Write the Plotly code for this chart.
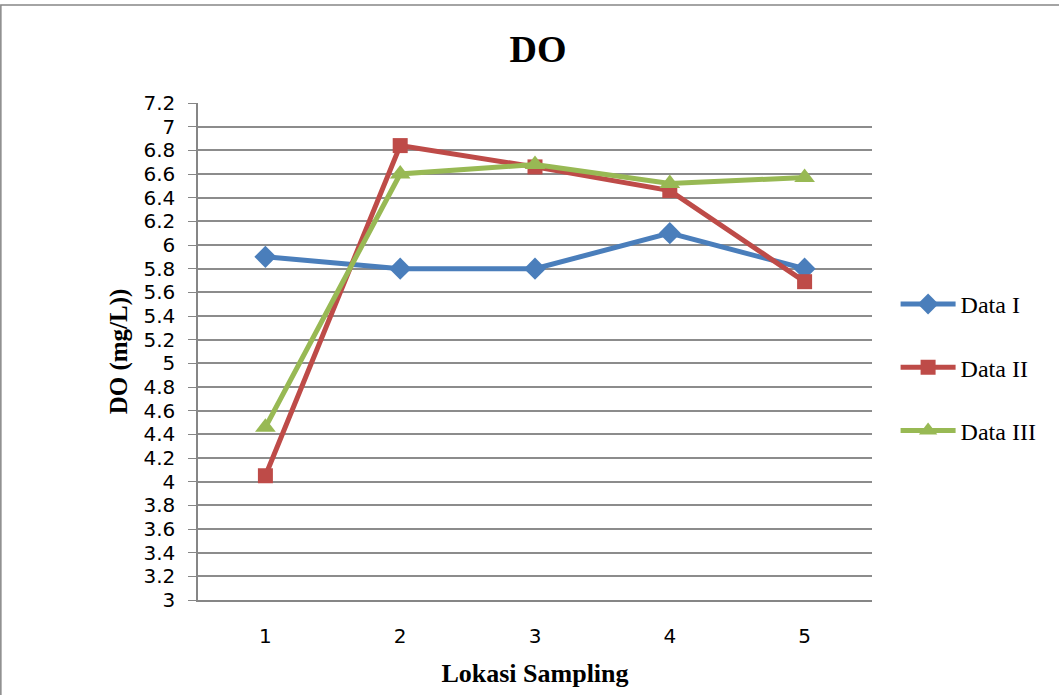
import plotly.graph_objects as go

# Sampling locations and dissolved oxygen readings (mg/L)
lokasi = [1, 2, 3, 4, 5]
data_1 = [5.9, 5.8, 5.8, 6.1, 5.8]
data_2 = [4.05, 6.84, 6.66, 6.46, 5.69]
data_3 = [4.46, 6.60, 6.68, 6.52, 6.57]

y_ticks = [round(3 + 0.2 * i, 1) for i in range(22)]
y_tick_text = [("%g" % v) for v in y_ticks]

series = [
    ("Data I", data_1, "#4A7EBB", "diamond", 17),
    ("Data II", data_2, "#BE4B48", "square", 15),
    ("Data III", data_3, "#98B954", "triangle-up", 18),
]

SERIF = "Liberation Serif, Times New Roman, serif"
SANS = "DejaVu Sans, sans-serif"

fig = go.Figure()
for name, vals, color, symbol, size in series:
    fig.add_trace(go.Scatter(
        x=lokasi, y=vals, name=name, mode="lines+markers",
        legendgroup=name,
        line=dict(color=color, width=5),
        marker=dict(symbol=symbol, size=size, color=color),
    ))

fig.update_layout(
    width=1059, height=695,
    margin=dict(l=198, r=187, t=103, b=95),
    paper_bgcolor="white", plot_bgcolor="white",
    title=dict(text="<b>DO</b>", x=0.508, xanchor="center", y=0.93, yanchor="middle",
               font=dict(family=SERIF, size=38, color="black")),
    showlegend=True,
    legend=dict(x=1.035, y=0.64, xanchor="left", yanchor="top",
                font=dict(family=SERIF, size=24, color="black"),
                tracegroupgap=29, itemwidth=55, bgcolor="rgba(0,0,0,0)"),
    xaxis=dict(
        range=[0.5, 5.5], tickvals=lokasi, ticktext=[str(v) for v in lokasi],
        showgrid=False, zeroline=False,
        showline=True, linecolor="#868686", linewidth=1.5,
        ticks="", ticklabelstandoff=17,
        tickfont=dict(family=SANS, size=20, color="black"),
        title=dict(text="<b>Lokasi Sampling</b>", standoff=17,
                   font=dict(family=SERIF, size=26, color="black")),
    ),
    yaxis=dict(
        range=[3, 7.2], tickvals=y_ticks, ticktext=y_tick_text,
        showgrid=True, gridcolor="#8C8C8C", gridwidth=1.5, zeroline=False,
        showline=True, linecolor="#868686", linewidth=1.5,
        ticks="outside", ticklen=8, tickcolor="#868686",
        ticklabelstandoff=9,
        tickfont=dict(family=SANS, size=20, color="black"),
        title=dict(text="<b>DO (mg/L))</b>", standoff=9,
                   font=dict(family=SERIF, size=25, color="black")),
    ),
    shapes=[dict(type="rect", xref="paper", yref="paper", x0=-0.2925, x1=1.3, y0=-0.2, y1=1.197,
                 line=dict(color="#868686", width=1.5), fillcolor="rgba(0,0,0,0)", layer="below")],
)

fig.write_html("out.html")
